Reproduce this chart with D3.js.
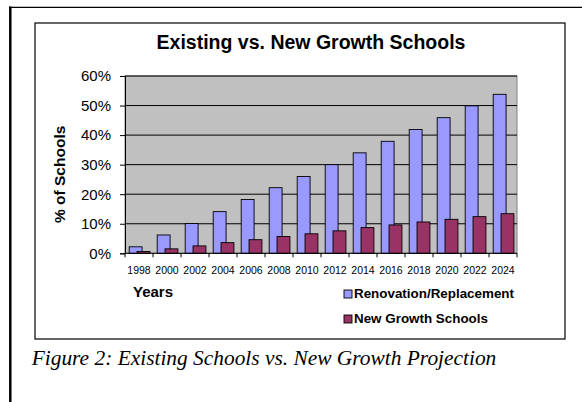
<!DOCTYPE html>
<html>
<head>
<meta charset="utf-8">
<script src="https://cdn.jsdelivr.net/npm/d3@7"></script>
<style>
  html, body { margin: 0; padding: 0; background: #fff; }
  svg { display: block; }
  text { font-family: "Liberation Sans", Arial, sans-serif; fill: #000; }
</style>
</head>
<body>
<svg id="chart" width="582" height="402"></svg>
<script>
// data
var years = ["1998", "2000", "2002", "2004", "2006", "2008", "2010",
             "2012", "2014", "2016", "2018", "2020", "2022", "2024"];
var renovation = [2.2, 6.2, 10.1, 14.1, 18.2, 22.2, 26, 30, 34, 37.9, 41.9, 45.9, 49.9, 53.8];
var newGrowth = [0.6, 1.5, 2.5, 3.6, 4.6, 5.7, 6.6, 7.6, 8.7, 9.6, 10.6, 11.5, 12.4, 13.4];
var yTicks = [0, 10, 20, 30, 40, 50, 60];
var seriesNames = ["Renovation/Replacement", "New Growth Schools"];
var seriesColors = ["#9999ff", "#993366"];

(function() {
"use strict";

var svg = d3.select("#chart");

var plot = {left: 125, right: 517, top: 76, bottom: 253.3};

var x = d3.scaleBand()
  .domain(years)
  .range([plot.left, plot.right])
  .padding(0);

var y = d3.scaleLinear()
  .domain([0, 60])
  .range([plot.bottom, plot.top]);

drawFrame();
drawPlot();
drawBars();
drawAxes();
drawLegend();
drawTexts();

function drawFrame() {
  // page-ish border lines
  svg.append("line")
    .attr("x1", 10.3).attr("x2", 10.3)
    .attr("y1", 6.5).attr("y2", 402)
    .attr("stroke", "#000").attr("stroke-width", 2.5);
  svg.append("line")
    .attr("x1", 9).attr("x2", 582)
    .attr("y1", 7.3).attr("y2", 7.3)
    .attr("stroke", "#000").attr("stroke-width", 1.3);

  // chart box
  svg.append("rect")
    .attr("x", 35).attr("y", 23)
    .attr("width", 530).attr("height", 316)
    .attr("fill", "#fff")
    .attr("stroke", "#000").attr("stroke-width", 1.2);
}

function drawPlot() {
  svg.append("rect")
    .attr("x", plot.left).attr("y", plot.top)
    .attr("width", plot.right - plot.left)
    .attr("height", plot.bottom - plot.top)
    .attr("fill", "#c0c0c0")
    .attr("stroke", "#808080").attr("stroke-width", 1);

  svg.append("g")
    .selectAll("line")
    .data(yTicks.slice(1))
    .enter()
    .append("line")
    .attr("x1", plot.left).attr("x2", plot.right)
    .attr("y1", function(d) { return y(d); })
    .attr("y2", function(d) { return y(d); })
    .attr("stroke", "#000").attr("stroke-width", 1);
}

function drawBars() {
  var bw = x.bandwidth();
  var series = [renovation, newGrowth];
  var offsets = [0.15, 0.43];

  series.forEach(function(values, s) {
    svg.append("g")
      .selectAll("rect")
      .data(values)
      .enter()
      .append("rect")
      .attr("x", function(d, i) { return x(years[i]) + offsets[s] * bw; })
      .attr("y", function(d) { return y(d); })
      .attr("width", 0.46 * bw)
      .attr("height", function(d) { return y(0) - y(d); })
      .attr("fill", seriesColors[s])
      .attr("stroke", "#000")
      .attr("stroke-width", 0.9);
  });
}

function drawAxes() {
  var yAxis = d3.axisLeft(y)
    .tickValues(yTicks)
    .tickSize(5)
    .tickPadding(9)
    .tickFormat(function(d) { return d + "%"; });

  var gy = svg.append("g")
    .attr("transform", "translate(" + plot.left + ",0)")
    .call(yAxis);
  gy.select(".domain").attr("stroke", "#000");
  gy.selectAll("text")
    .style("font-size", "15px")
    .attr("fill", "#000");

  var xAxis = d3.axisBottom(x)
    .tickSize(0)
    .tickPadding(13);

  var gx = svg.append("g")
    .attr("transform", "translate(0," + plot.bottom + ")")
    .call(xAxis);
  gx.select(".domain").attr("stroke", "#000").attr("d", "M" + plot.left + ",0H" + plot.right);
  gx.selectAll("text")
    .style("font-size", "10.5px")
    .attr("fill", "#000");

  // category separators below the axis
  gx.selectAll(".sep")
    .data(years.concat(["end"]))
    .enter()
    .append("line")
    .attr("class", "sep")
    .attr("x1", function(d) { return d === "end" ? plot.right : x(d); })
    .attr("x2", function(d) { return d === "end" ? plot.right : x(d); })
    .attr("y1", 0).attr("y2", 4)
    .attr("stroke", "#000");
}

function drawLegend() {
  var lg = svg.append("g")
    .selectAll("g")
    .data(seriesNames)
    .enter()
    .append("g")
    .attr("transform", function(d, i) {
      return "translate(" + [344, 290 + i * 25] + ")";
    });

  lg.append("rect")
    .attr("width", 8).attr("height", 8)
    .attr("fill", function(d, i) { return seriesColors[i]; })
    .attr("stroke", "#000").attr("stroke-width", 0.9);

  lg.append("text")
    .attr("x", 10).attr("y", 7.5)
    .style("font-size", "13.4px")
    .style("font-weight", "bold")
    .text(function(d) { return d; });
}

function drawTexts() {
  svg.append("text")
    .attr("x", 311).attr("y", 48.5)
    .style("text-anchor", "middle")
    .style("font-size", "19.5px")
    .style("font-weight", "bold")
    .text("Existing vs. New Growth Schools");

  svg.append("text")
    .attr("transform", "translate(65,223) rotate(-90)")
    .style("font-size", "15.5px")
    .style("font-weight", "bold")
    .text("% of Schools");

  svg.append("text")
    .attr("x", 133).attr("y", 296.7)
    .style("font-size", "15px")
    .style("font-weight", "bold")
    .text("Years");

  svg.append("text")
    .attr("x", 31.7).attr("y", 365)
    .style("font-family", "'Liberation Serif', 'Times New Roman', serif")
    .style("font-style", "italic")
    .style("font-size", "21.4px")
    .text("Figure 2: Existing Schools vs. New Growth Projection");
}

})();
</script>
</body>
</html>
